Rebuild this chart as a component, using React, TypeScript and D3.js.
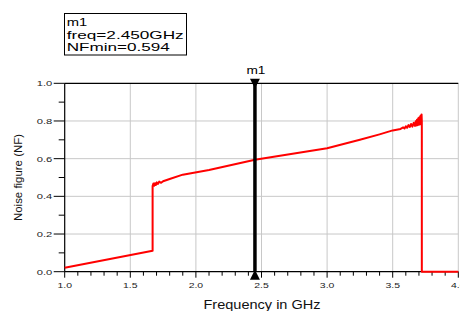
import * as d3 from "d3";
import { useEffect, useRef } from "react";

// values
const freqGHz = [
  1.0, 1.67, 1.67, 1.676, 1.682, 1.688, 1.695, 1.702, 1.71, 1.72, 1.735, 1.75, 1.8,
  1.9, 2.1, 2.45, 3.0, 3.25, 3.4, 3.5, 3.56, 3.58, 3.59, 3.6, 3.61, 3.62, 3.63,
  3.64, 3.65, 3.66, 3.67, 3.675, 3.68, 3.685, 3.69, 3.695, 3.7, 3.704, 3.708,
  3.712, 3.716, 3.72, 3.722, 3.722, 4.0,
];
const noiseFigure = [
  0.021, 0.111, 0.455, 0.468, 0.456, 0.47, 0.46, 0.474, 0.466, 0.478, 0.472, 0.48,
  0.492, 0.515, 0.54, 0.594, 0.655, 0.70, 0.729, 0.75, 0.758, 0.766, 0.76, 0.772,
  0.764, 0.778, 0.768, 0.784, 0.77, 0.79, 0.774, 0.798, 0.776, 0.806, 0.778, 0.814,
  0.78, 0.82, 0.782, 0.828, 0.784, 0.835, 0.8, 0, 0,
];
const xTickLabels = ["1.0", "1.5", "2.0", "2.5", "3.0", "3.5", "4.0"];
const yTickLabels = ["0.0", "0.2", "0.4", "0.6", "0.8", "1.0"];
const markerName = "m1";
const markerFreq = 2.45;
const markerLines = ["m1", "freq=2.450GHz", "NFmin=0.594"];

const W = 460, H = 311;
const font = "'Liberation Sans', Arial, sans-serif";

const App = () => {
  const ref = useRef<SVGSVGElement>(null);

  useEffect(() => {
    const svg = d3.select(ref.current);
    svg.selectAll("*").remove();

    const margin = { left: 64.7, top: 83.3 };
    const pw = 393.6, ph = 188.4;

    const x = d3.scaleLinear().domain([1, 4]).range([margin.left, margin.left + pw]);
    const y = d3.scaleLinear().domain([0, 1]).range([margin.top + ph, margin.top]);

    // grid
    const grid = svg.append("g").attr("stroke", "#c8c8c8").attr("stroke-width", 1);
    xTickLabels.slice(1).forEach(t => {
      grid.append("line")
        .attr("x1", x(+t)).attr("x2", x(+t))
        .attr("y1", y(0)).attr("y2", y(1));
    });
    yTickLabels.slice(1, -1).forEach(t => {
      grid.append("line")
        .attr("x1", x(1)).attr("x2", x(4))
        .attr("y1", y(+t)).attr("y2", y(+t));
    });

    // frame
    const frame = svg.append("g").attr("stroke", "#000").attr("stroke-width", 1.2);
    frame.append("line").attr("x1", x(1)).attr("x2", x(4)).attr("y1", y(1)).attr("y2", y(1));
    frame.append("line").attr("x1", x(1)).attr("x2", x(1)).attr("y1", y(0)).attr("y2", y(1));
    frame.append("line").attr("x1", x(1)).attr("x2", x(4)).attr("y1", y(0)).attr("y2", y(0));

    // x ticks
    d3.range(0, 31).forEach(i => {
      const v = 1 + i * 0.1;
      const major = i % 5 === 0;
      frame.append("line")
        .attr("x1", x(v)).attr("x2", x(v))
        .attr("y1", y(0)).attr("y2", y(0) + (major ? 6 : 4))
        .attr("stroke-width", 1);
    });
    // y ticks
    d3.range(0, 11).forEach(i => {
      const v = i * 0.1;
      const major = i % 2 === 0;
      frame.append("line")
        .attr("x1", x(1) - (major ? 11 : 6)).attr("x2", x(1))
        .attr("y1", y(v)).attr("y2", y(v))
        .attr("stroke-width", 1);
    });

    svg.append("g").selectAll("text")
      .data(xTickLabels)
      .enter()
      .append("text")
      .attr("x", d => x(+d))
      .attr("y", y(0) + 16)
      .attr("text-anchor", "middle")
      .attr("font-family", font)
      .attr("font-size", 8)
      .attr("textLength", 14.5)
      .attr("lengthAdjust", "spacingAndGlyphs")
      .attr("fill", "#222")
      .text(d => d);

    svg.append("g").selectAll("text")
      .data(yTickLabels)
      .enter()
      .append("text")
      .attr("x", 52.3)
      .attr("y", d => y(+d) + 3)
      .attr("text-anchor", "end")
      .attr("font-family", font)
      .attr("font-size", 8)
      .attr("textLength", 15.5)
      .attr("lengthAdjust", "spacingAndGlyphs")
      .attr("fill", "#222")
      .text(d => d);

    // axis titles
    svg.append("text")
      .attr("x", 262).attr("y", 309)
      .attr("text-anchor", "middle")
      .attr("font-family", font)
      .attr("font-size", 12)
      .attr("textLength", 117)
      .attr("lengthAdjust", "spacingAndGlyphs")
      .attr("fill", "#111")
      .text("Frequency in GHz");

    svg.append("text")
      .attr("transform", "translate(21.5," + (margin.top + ph / 2) + ") rotate(-90)")
      .attr("text-anchor", "middle")
      .attr("font-family", font)
      .attr("font-size", 11.5)
      .attr("textLength", 87)
      .attr("lengthAdjust", "spacingAndGlyphs")
      .attr("fill", "#111")
      .text("Noise figure (NF)");

    // trace
    const pts = freqGHz.map((f, i) => [f, noiseFigure[i]] as [number, number]);
    const line = d3.line<[number, number]>().x(d => x(d[0])).y(d => y(d[1]));
    svg.append("path")
      .attr("d", line(pts))
      .attr("fill", "none")
      .attr("stroke", "#ff0000")
      .attr("stroke-width", 2)
      .attr("stroke-linejoin", "round");

    // marker
    const mx = x(markerFreq);
    svg.append("line")
      .attr("x1", mx).attr("x2", mx)
      .attr("y1", y(1)).attr("y2", y(0))
      .attr("stroke", "#000")
      .attr("stroke-width", 3.5);
    svg.append("path")
      .attr("d", `M${mx - 5},${y(1) - 4.5}L${mx + 5},${y(1) - 4.5}L${mx},${y(1) + 5}Z`)
      .attr("fill", "#000");
    svg.append("path")
      .attr("d", `M${mx - 5},${y(0) + 8}L${mx + 5},${y(0) + 8}L${mx},${y(0) - 2}Z`)
      .attr("fill", "#000");
    svg.append("text")
      .attr("x", mx + 1).attr("y", 74)
      .attr("text-anchor", "middle")
      .attr("font-family", font)
      .attr("font-size", 11.5)
      .attr("textLength", 19)
      .attr("lengthAdjust", "spacingAndGlyphs")
      .text(markerName);

    // marker readout box
    svg.append("rect")
      .attr("x", 64.5).attr("y", 13.5)
      .attr("width", 122).attr("height", 41.5)
      .attr("fill", "#fff")
      .attr("stroke", "#000")
      .attr("stroke-width", 1);
    const lens = [20.5, 117, 103];
    markerLines.forEach((t, i) => {
      svg.append("text")
        .attr("x", 66.7).attr("y", 26 + i * 12.6)
        .attr("font-family", font)
        .attr("font-size", 11.5)
        .attr("textLength", lens[i])
        .attr("lengthAdjust", "spacingAndGlyphs")
        .text(t);
    });
  });

  return (
    <svg ref={ref} width={W} height={H}
      style={{ position: "absolute", left: 0, top: 0, background: "#fff" }} />
  );
};

export default App;
